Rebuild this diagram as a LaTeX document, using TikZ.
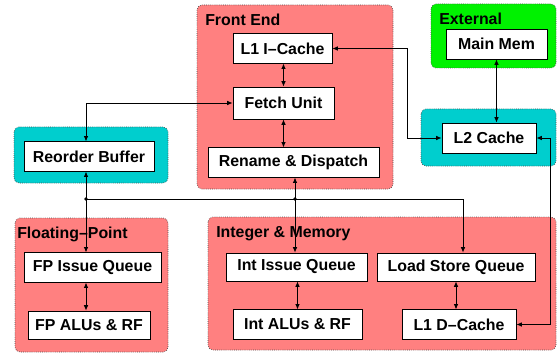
\documentclass[tikz,border=0pt]{standalone}
\usepackage{fontspec}
\setmainfont{Liberation Sans}
\usetikzlibrary{arrows.meta}
\definecolor{grpred}{RGB}{255,128,128}
\definecolor{grpcyan}{RGB}{0,206,206}
\definecolor{grpgreen}{RGB}{0,242,0}
\tikzset{>={Latex[length=3.8pt,width=3.2pt]}}
\tikzset{
    txt/.style={font=\bfseries\fontsize{11.3}{13}\selectfont},
    unit/.style={txt, draw, fill=white, line width=0.6pt, inner sep=0pt,
        minimum height=0.73cm, minimum width=#1},
    grp/.style={fill=#1, draw=black!70, densely dotted, line width=0.5pt, rounded corners=3.5pt},
    title/.style={txt, anchor=west, inner sep=0pt},
    link/.style={line width=0.6pt},
}

\begin{document}
\begin{tikzpicture}[x=0.025cm, y=-0.025cm] % pipeline blocks
	\useasboundingbox (0,0) rectangle (557,354);
	% groups
	\foreach \xa/\ya/\xb/\yb/\col in {197/5/393/189/grpred, 431/4/556/68/grpgreen,
		421/109/556/166/grpcyan, 14/127/168/183/grpcyan,
		15/218/168/352/grpred, 208/217/556/350/grpred}
	\filldraw[grp=\col] (\xa,\ya) rectangle (\xb,\yb);
	\node[title] (tfront) at (205,20) {Front End};
	\node[title] (text) at (439,19) {External};
	\node[title] (tfp) at (17,234) {Floating--Point};
	\node[title] (tint) at (216,234) {Integer \& Memory};
	% units
	\node[unit=2.475cm] (l1i) at (282.5,48.5) {L1 I--Cache};
	\node[unit=2.525cm, minimum height=0.8cm] (fetch) at (283.5,103) {Fetch Unit};
	\node[unit=4.275cm] (rename) at (293.5,162.5) {Rename \& Dispatch};
	\node[unit=2.525cm, minimum height=0.75cm] (mainmem) at (496.5,44) {Main Mem};
	\node[unit=2.35cm, minimum height=0.75cm] (l2) at (489,138) {L2 Cache};
	\node[unit=3.25cm] (rob) at (89,156.5) {Reorder Buffer};
	\node[unit=3.425cm] (fpiq) at (92.5,267.5) {FP Issue Queue};
	\node[unit=3.05cm, minimum height=0.7cm] (fpalu) at (89,325) {FP ALUs \& RF};
	\node[unit=3.525cm, minimum height=0.7cm] (intiq) at (296.5,267) {Int Issue Queue};
	\node[unit=3.95cm, minimum height=0.7cm] (lsq) at (456,267) {Load Store Queue};
	\node[unit=3.225cm] (intalu) at (297.5,324.5) {Int ALUs \& RF};
	\node[unit=2.85cm] (l1d) at (459,324.5) {L1 D--Cache};
	% buses
	\coordinate (jfp) at (86,199);
	\coordinate (jint) at (295,199);
	\coordinate (jlsq) at (463,199);
	\coordinate (jl2) at (407,0);
	\coordinate (jd) at (550,0);
	\draw[link, <->] (l1i.south -| fetch.north) -- (fetch.north);
	\draw[link, <->] (fetch.south) -- (fetch.south |- rename.north);
	\draw[link, <->] (fetch.west) -| (jfp |- rob.north);
	\draw[link, <->] (rob.south -| jfp) -- (jfp |- fpiq.north);
	\draw[link, <->] (fpiq.south -| jfp) -- (jfp |- fpalu.north);
	\draw[link, <->] (rename.south -| jint) -- (jint |- intiq.north);
	\draw[link, ->] (jfp) -- (jlsq) -- (jlsq |- lsq.north);
	\draw[link, <->] (intiq.south -| intalu.north) -- (intalu.north);
	\draw[link, <->] (lsq.south) -- (lsq.south |- l1d.north);
	\draw[link, <->] (mainmem.south) -- (mainmem.south |- l2.north);
	\draw[link, <->] (l1i.east) -| (jl2 |- l2.west) -- (l2.west);
	\draw[link, <->] (l2.east) -| (jd |- l1d.east) -- (l1d.east);
	\fill (jfp) circle (1.3pt);
	\fill (jint) circle (1.3pt);
\end{tikzpicture}
\end{document}
